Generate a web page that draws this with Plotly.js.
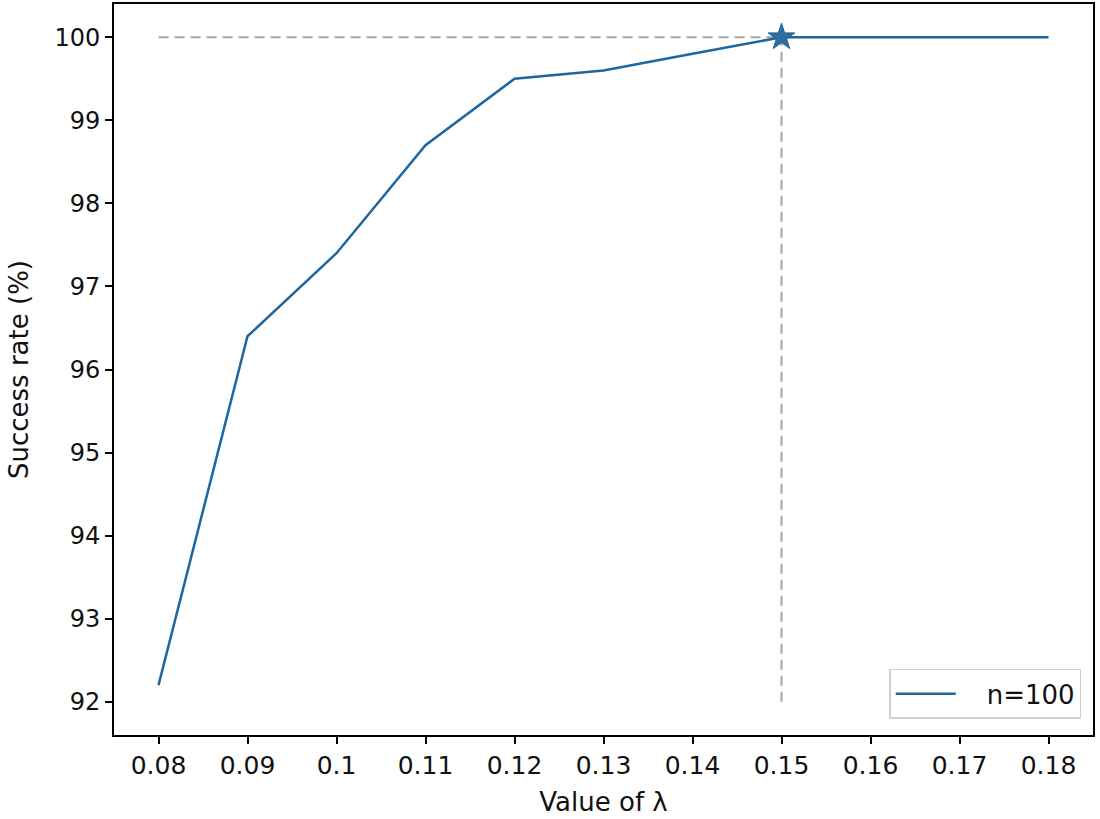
<!DOCTYPE html>
<html>
<head>
<meta charset="utf-8">
<script src="https://cdn.plot.ly/plotly-3.0.1.min.js"></script>
<style>
  body { margin: 0; background: #fff; }
  #chart { width: 1100px; height: 819px; }
</style>
</head>
<body>
<div id="chart"></div>
<script>
// DATA
var lambdas = [0.08, 0.09, 0.10, 0.11, 0.12, 0.13, 0.14, 0.15, 0.16, 0.17, 0.18];
var successRate = [92.2, 96.4, 97.4, 98.7, 99.5, 99.6, 99.8, 100, 100, 100, 100];

var bestX = [0.15];
var bestY = [100];

// reference lines
var hlineX = [0.08, 0.15];
var hlineY = [100, 100];
var vlineX = [0.15, 0.15];
var vlineY = [92, 100];

var xTickVals = [0.08, 0.09, 0.10, 0.11, 0.12, 0.13, 0.14, 0.15, 0.16, 0.17, 0.18];
var xTickText = ['0.08', '0.09', '0.1', '0.11', '0.12', '0.13', '0.14', '0.15', '0.16', '0.17', '0.18'];
var yTickVals = [92, 93, 94, 95, 96, 97, 98, 99, 100];

CHART = document.getElementById('chart');

var lineColor = '#1d66a0';
var refColor = '#a6a6a6';

var trace1 = {
  x: hlineX,
  y: hlineY,
  mode: 'lines',
  line: {color: refColor, width: 2, dash: '10px,6px'},
  showlegend: false,
  hoverinfo: 'skip'
};

var trace2 = {
  x: vlineX,
  y: vlineY,
  mode: 'lines',
  line: {color: refColor, width: 2, dash: '10px,6px'},
  showlegend: false,
  hoverinfo: 'skip'
};

var trace3 = {
  x: lambdas,
  y: successRate,
  mode: 'lines',
  name: '\u2003n=100',
  line: {color: lineColor, width: 2.5}
};

var trace4 = {
  x: bestX,
  y: bestY,
  mode: 'markers',
  marker: {symbol: 'star', size: 20, color: '#2a6fa6', line: {color: '#1f5f92', width: 1}},
  showlegend: false
};

var data = [trace1, trace2, trace3, trace4];

var layout = {
  width: 1100,
  height: 819,
  margin: {l: 114, r: 7, t: 4, b: 84},
  plot_bgcolor: '#fff',
  paper_bgcolor: '#fff',
  font: {family: 'DejaVu Sans', size: 22, color: '#111'},
  showlegend: true,
  xaxis: {
    range: [0.075, 0.185],
    tickvals: xTickVals,
    ticktext: xTickText,
    ticks: 'outside',
    ticklen: 7,
    tickwidth: 1.5,
    tickcolor: '#000',
    showline: true,
    linecolor: '#000',
    linewidth: 2,
    mirror: true,
    showgrid: false,
    zeroline: false,
    tickfont: {family: 'DejaVu Sans', size: 25, color: '#111'},
    title: {text: 'Value of λ', font: {family: 'DejaVu Sans', size: 26, color: '#111'}, standoff: 14}
  },
  yaxis: {
    range: [91.6, 100.4],
    tickvals: yTickVals,
    ticks: 'outside',
    ticklen: 7,
    tickwidth: 1.5,
    tickcolor: '#000',
    showline: true,
    linecolor: '#000',
    linewidth: 2,
    mirror: true,
    showgrid: false,
    zeroline: false,
    tickfont: {family: 'DejaVu Sans', size: 24, color: '#111'},
    title: {text: 'Success rate (%)', font: {family: 'DejaVu Sans', size: 26, color: '#111'}, standoff: 18}
  },
  legend: {
    x: 0.988,
    y: 0.022,
    xanchor: 'right',
    yanchor: 'bottom',
    bgcolor: '#fff',
    bordercolor: '#d0d0d0',
    borderwidth: 1.5,
    itemwidth: 60,
    font: {family: 'DejaVu Sans', size: 26, color: '#111'}
  }
};

Plotly.newPlot(CHART, data, layout, {displayModeBar: false});
</script>
</body>
</html>
